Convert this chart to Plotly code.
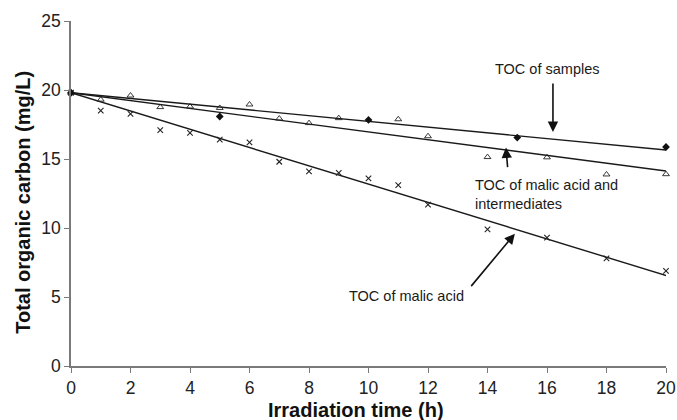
import numpy as np
import plotly.graph_objects as go

# Data
hours_malic = [0, 1, 2, 3, 4, 5, 6, 7, 8, 9, 10, 11, 12, 14, 16, 18, 20]
toc_malic = [19.8, 18.5, 18.27, 17.1, 16.9, 16.4, 16.2, 14.8, 14.1, 14.0, 13.6, 13.1, 11.7, 9.9, 9.3, 7.8, 6.9]

hours_inter = [0, 1, 2, 3, 4, 5, 6, 7, 8, 9, 11, 12, 14, 16, 18, 20]
toc_inter = [19.8, 19.3, 19.6, 18.76, 18.8, 18.7, 18.95, 17.93, 17.6, 17.96, 17.88, 16.65, 15.14, 15.12, 13.88, 13.9]

hours_samples = [0, 5, 10, 15, 20]
toc_samples = [19.8, 18.08, 17.83, 16.55, 15.87]

x_ticks = [0, 2, 4, 6, 8, 10, 12, 14, 16, 18, 20]
y_ticks = [0, 5, 10, 15, 20, 25]


def fit_fixed(xs, ys, x_end):
    xs = np.asarray(xs, float)
    ys = np.asarray(ys, float)
    y0 = ys[0]
    slope = np.sum(xs * (ys - y0)) / np.sum(xs * xs)
    return [0, x_end], [y0, y0 + slope * x_end]


fig = go.Figure()

for xs, ys, xe in [(hours_samples, toc_samples, 20.3),
                   (hours_inter, toc_inter, 20.0),
                   (hours_malic, toc_malic, 20.15)]:
    lx, ly = fit_fixed(xs, ys, xe)
    fig.add_trace(go.Scatter(x=lx, y=ly, mode="lines",
                             line=dict(color="#1a1a1a", width=1.4),
                             cliponaxis=False, showlegend=False, hoverinfo="skip"))

fig.add_trace(go.Scatter(x=hours_malic, y=toc_malic, mode="markers",
                         marker=dict(symbol="x-thin", size=5.5,
                                     line=dict(color="#222", width=1.1)),
                         cliponaxis=False, showlegend=False))
fig.add_trace(go.Scatter(x=hours_inter, y=toc_inter, mode="markers",
                         marker=dict(symbol="triangle-up-open", size=6, color="#222",
                                     line=dict(color="#222", width=0.9)),
                         cliponaxis=False, showlegend=False))
fig.add_trace(go.Scatter(x=hours_samples, y=toc_samples, mode="markers",
                         marker=dict(symbol="diamond", size=6, color="#111"),
                         cliponaxis=False, showlegend=False))

ann_font = dict(family="Liberation Sans, Arial, sans-serif", size=14.5, color="#1a1a1a")

# Arrows
for (tx, ty, hx, hy) in [(16.2, 20.58, 16.2, 16.96),
                         (14.68, 14.30, 14.62, 15.83),
                         (13.41, 5.68, 14.92, 9.59)]:
    fig.add_annotation(x=hx, y=hy, ax=tx, ay=ty, xref="x", yref="y",
                       axref="x", ayref="y", text="", showarrow=True,
                       arrowhead=2, arrowsize=1.3, arrowwidth=1.6,
                       arrowcolor="#111")

fig.add_annotation(x=16.0, y=21.55, xref="x", yref="y", text="TOC of samples",
                   showarrow=False, font=ann_font)
fig.add_annotation(x=13.52, y=12.43, xref="x", yref="y",
                   text="TOC of malic acid and<br>intermediates",
                   showarrow=False, xanchor="left", align="left", font=ann_font)
fig.add_annotation(x=9.29, y=5.07, xref="x", yref="y", text="TOC of malic acid",
                   showarrow=False, xanchor="left", font=ann_font)

title_font = dict(family="Liberation Sans, Arial, sans-serif", size=20, color="#111")
fig.add_annotation(x=(356 - 71) / 595, y=(365.7 - 409.5) / 345, xref="paper", yref="paper",
                   xanchor="center", yanchor="middle",
                   text="<b>Irradiation time (h)</b>", showarrow=False, font=title_font)
fig.add_annotation(x=(23 - 71) / 595, y=(365.7 - 202.5) / 345, xref="paper", yref="paper",
                   xanchor="center", yanchor="middle",
                   text="<b>Total organic carbon (mg/L)</b>", textangle=-90,
                   showarrow=False, font=title_font)

axis_common = dict(showgrid=False, zeroline=False, showline=True, automargin=False,
                   linecolor="#7a7a7a", linewidth=1.6, ticks="outside",
                   tickcolor="#7a7a7a", ticklen=5, tickwidth=1.4,
                   tickfont=dict(family="Liberation Sans, Arial, sans-serif",
                                 size=17.5, color="#222"))

fig.update_xaxes(range=[0, 20], tickvals=x_ticks, **axis_common)
fig.update_yaxes(range=[0, 25], tickvals=y_ticks, **axis_common)

fig.update_layout(width=677, height=420,
                  margin=dict(l=71, r=11, t=21, b=54, autoexpand=False),
                  plot_bgcolor="white", paper_bgcolor="white")

fig.write_html("out.html", config={"displayModeBar": False},
               post_script="document.body.style.margin='0';document.body.style.overflow='hidden';")
